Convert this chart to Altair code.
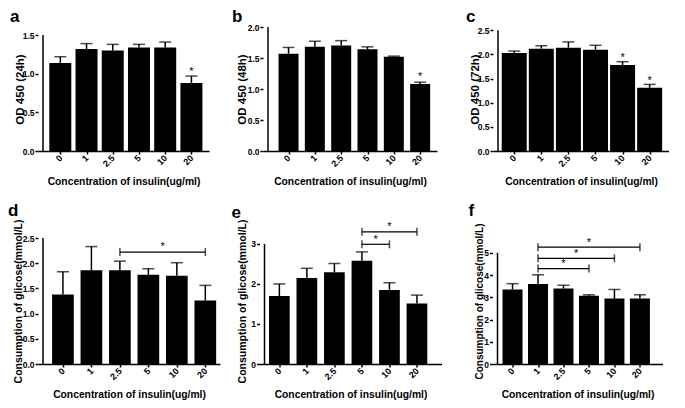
import json
import altair as alt
import pandas as pd

# ---------------- data ----------------
categories = ["0", "1", "2.5", "5", "10", "20"]
positions = [0, 1, 2, 3, 4, 5]

a_mean = [1.14, 1.32, 1.30, 1.34, 1.34, 0.88]
a_err = [1.22, 1.39, 1.38, 1.38, 1.41, 0.97]
a_star_x = [5]
a_star_y = [1.05]

b_mean = [1.57, 1.68, 1.70, 1.64, 1.52, 1.08]
b_err = [1.67, 1.77, 1.78, 1.68, 1.53, 1.11]
b_star_x = [5]
b_star_y = [1.22]

c_mean = [2.03, 2.12, 2.14, 2.10, 1.78, 1.31]
c_err = [2.07, 2.18, 2.26, 2.19, 1.85, 1.38]
c_star_x = [4, 5]
c_star_y = [1.97, 1.49]

d_mean = [1.38, 1.86, 1.86, 1.77, 1.75, 1.26]
d_err = [1.83, 2.33, 2.04, 1.89, 2.01, 1.56]
d_br_start = [2]
d_br_end = [5]
d_br_y = [2.22]
d_star_x = [3.5]
d_star_y = [2.37]

e_mean = [1.70, 2.15, 2.29, 2.58, 1.85, 1.51]
e_err = [2.00, 2.39, 2.51, 2.80, 2.03, 1.72]
e_br_start = [3, 3]
e_br_end = [4, 5]
e_br_y = [2.99, 3.30]
e_star_x = [3.5, 4.0]
e_star_y = [3.14, 3.46]

f_mean = [3.35, 3.60, 3.39, 3.07, 2.94, 2.94]
f_err = [3.61, 4.01, 3.54, 3.11, 3.35, 3.11]
f_br_start = [1, 1, 1]
f_br_end = [3, 4, 5]
f_br_y = [4.29, 4.75, 5.25]
f_star_x = [2.0, 2.5, 3.0]
f_star_y = [4.57, 5.03, 5.53]

x_title = "Concentration of insulin(ug/ml)"

# ---------------- styling ----------------
FONT = "Liberation Sans"
label_expr = json.dumps(categories) + "[datum.value]"


def panel(letter, ytitle, means, errs, yticks, yfmt, ytop_dom, width, height,
          xdom, bar_w, cap_w, ytitle_size, ytitle_pad, y_ext, letter_x, letter_y,
          star_x=None, star_y=None, br_s=None, br_e=None, br_y=None):
    df = pd.DataFrame({"pos": positions, "mean": means, "err": errs})
    xs = alt.Scale(domain=xdom, nice=False, zero=False)
    ys = alt.Scale(domain=[0, ytop_dom], nice=False)
    xaxis = alt.Axis(values=positions, labelExpr=label_expr, labelAngle=315,
                     labelAlign="right", labelBaseline="middle", labelPadding=2,
                     labelFontSize=9, labelFont=FONT, labelFontWeight="bold",
                     labelOverlap=False, labelFlush=False,
                     title=x_title, titleFontSize=10.3, titleFont=FONT,
                     titleFontWeight="bold", titlePadding=5.5,
                     minExtent=20, maxExtent=20, grid=False,
                     domainWidth=1.5, tickWidth=1.5, tickSize=3,
                     domainColor="black", tickColor="black",
                     labelColor="black", titleColor="black")
    yaxis = alt.Axis(values=yticks, format=yfmt, domain=False, grid=False,
                     labelFontSize=8.5, labelFont=FONT, labelFontWeight="bold",
                     labelOverlap=False, labelFlush=False,
                     labelPadding=1, tickSize=3, tickWidth=1.5,
                     tickColor="black", labelColor="black",
                     title=ytitle, titleFontSize=ytitle_size, titleFont=FONT,
                     titleFontWeight="bold", titlePadding=ytitle_pad,
                     titleColor="black", minExtent=y_ext, maxExtent=y_ext)

    def X(field):
        return alt.X(field, scale=xs, axis=xaxis)

    def Y(field):
        return alt.Y(field, scale=ys, axis=yaxis)

    base = alt.Chart(df)
    bars = base.mark_bar(size=bar_w, color="black").encode(
        x=X("pos:Q"), y=Y("mean:Q"))
    err = base.mark_rule(color="black", strokeWidth=1.5).encode(
        x=X("pos:Q"), y=Y("mean:Q"), y2="err:Q")
    cap = base.mark_tick(orient="horizontal", size=cap_w, thickness=1.5,
                         color="black").encode(x=X("pos:Q"), y=Y("err:Q"))
    ldf = pd.DataFrame({"x0": [xdom[0]], "y0": [0], "y1": [yticks[-1]]})
    yline = alt.Chart(ldf).mark_rule(color="black", strokeWidth=1.5).encode(
        x=X("x0:Q"), y=Y("y0:Q"), y2="y1:Q")
    tag = alt.Chart(ldf).mark_text(text=letter, font=FONT, fontSize=17,
                                   fontWeight="bold", align="left",
                                   baseline="top", color="black").encode(
        x=alt.value(letter_x), y=alt.value(letter_y))
    layers = [bars, err, cap, yline, tag]
    if br_s:
        bdf = pd.DataFrame({"s": br_s, "e": br_e, "y": br_y})
        layers.append(alt.Chart(bdf).mark_rule(color="black", strokeWidth=1.2)
                      .encode(x=X("s:Q"), x2="e:Q", y=Y("y:Q")))
        layers.append(alt.Chart(bdf).mark_tick(orient="vertical", size=8,
                                               thickness=1.5, color="black")
                      .encode(x=X("s:Q"), y=Y("y:Q")))
        layers.append(alt.Chart(bdf).mark_tick(orient="vertical", size=8,
                                               thickness=1.5, color="black")
                      .encode(x=X("e:Q"), y=Y("y:Q")))
    if star_x:
        sdf = pd.DataFrame({"sx": star_x, "sy": star_y})
        layers.append(alt.Chart(sdf).mark_text(text="*", fontSize=11, font=FONT,
                                               color="black", fill="black",
                                               baseline="middle", dy=2)
                      .encode(x=X("sx:Q"), y=Y("sy:Q")))
    return alt.layer(*layers).properties(width=width, height=height)


H1 = 124
H2 = 126
pa = panel("a", "OD 450 (24h)", a_mean, a_err, [0, 0.5, 1.0, 1.5], ".1f", 1.605,
           171, H1, [-0.66, 5.48], 22, 12, 11.5, 0.5, 12, -28, -18,
           star_x=a_star_x, star_y=a_star_y)
pb = panel("b", "OD 450 (48h)", b_mean, b_err, [0, 0.5, 1.0, 1.5, 2.0], ".1f", 2.0,
           174, H1, [-0.78, 5.45], 20, 12, 11.5, 3.5, 12, -31, -18,
           star_x=b_star_x, star_y=b_star_y)
pc = panel("c", "OD 450 (72h)", c_mean, c_err, [0, 0.5, 1.0, 1.5, 2.0, 2.5], ".1f",
           2.569, 176, H1, [-0.6, 5.53], 25, 12, 11.5, 1, 12, -27, -18,
           star_x=c_star_x, star_y=c_star_y)
pd_ = panel("d", "Consumption of glicose(mmol/L)", d_mean, d_err,
            [0, 0.5, 1.0, 1.5, 2.0, 2.5], ".1f", 2.5, 182, H2, [-0.7, 5.34],
            21.7, 12, 10.5, 2.5, 12, -30, -35,
            star_x=d_star_x, star_y=d_star_y,
            br_s=d_br_start, br_e=d_br_end, br_y=d_br_y)
pe = panel("e", "Consumption of glicose(mmol/L)", e_mean, e_err, [0, 1, 2, 3], "d",
           3.147, 182, H2, [-0.54, 5.71], 20.7, 12, 10.5, 3.5, 9, -28, -33,
           star_x=e_star_x, star_y=e_star_y,
           br_s=e_br_start, br_e=e_br_end, br_y=e_br_y)
pf = panel("f", "Consumption of glicose(mmol/L)", f_mean, f_err, [0, 1, 2, 3, 4, 5],
           "d", 5.664, 170, H2, [-0.59, 5.69], 20, 12, 10, 0.5, 8, -24, -35,
           star_x=f_star_x, star_y=f_star_y,
           br_s=f_br_start, br_e=f_br_end, br_y=f_br_y)

row1 = alt.hconcat(alt.hconcat(pa, pb, spacing=23), pc, spacing=29)
row2 = alt.hconcat(alt.hconcat(pd_, pe, spacing=11.5), pf, spacing=26.5)

chart = alt.vconcat(row1, row2, spacing=15).properties(
    padding=0, background="white"
).configure_view(stroke=None)

chart.save("out.html", embed_options={"renderer": "svg", "actions": False})
